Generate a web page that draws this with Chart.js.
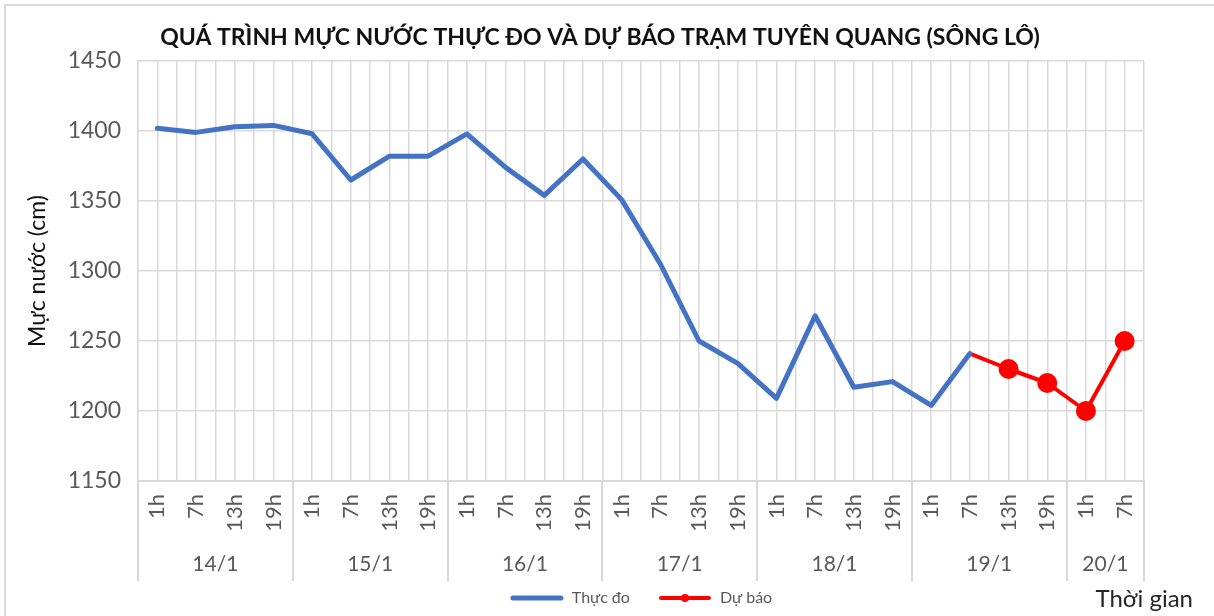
<!DOCTYPE html>
<html>
<head>
<meta charset="utf-8">
<script src="https://cdn.jsdelivr.net/npm/chart.js@4/dist/chart.umd.min.js"></script>
<style>
  html, body { margin: 0; padding: 0; background: #fff; }
  #wrap { position: relative; width: 1214px; height: 616px; overflow: hidden; }
  #frame { position: absolute; left: 4px; top: 4px; width: 1300px; height: 700px;
           border-left: 2px solid #d9d9d9; border-top: 2px solid #d9d9d9; }
  canvas { position: absolute; left: 0; top: 0; }
</style>
</head>
<body>
<div id="wrap">
  <div id="frame"></div>
  <canvas id="chart" width="1214" height="616"></canvas>
</div>
<script>
// số liệu mực nước trạm Tuyên Quang (cm)
const days = ['14/1', '15/1', '16/1', '17/1', '18/1', '19/1', '20/1'];
const hoursPerDay = [4, 4, 4, 4, 4, 4, 2];
const hourLabels = [
  '1h', '7h', '13h', '19h',
  '1h', '7h', '13h', '19h',
  '1h', '7h', '13h', '19h',
  '1h', '7h', '13h', '19h',
  '1h', '7h', '13h', '19h',
  '1h', '7h', '13h', '19h',
  '1h', '7h'
];
const thucDo = [
  1402, 1399, 1403, 1404,
  1398, 1365, 1382, 1382,
  1398, 1374, 1354, 1380,
  1351, 1305, 1250, 1234,
  1209, 1268, 1217, 1221,
  1204, 1241, null, null,
  null, null
];
const duBao = [
  null, null, null, null,
  null, null, null, null,
  null, null, null, null,
  null, null, null, null,
  null, null, null, null,
  null, 1241, 1230, 1220,
  1200, 1250
];
const yTicks = [1150, 1200, 1250, 1300, 1350, 1400, 1450];

// ranh giới ngày và tâm nhãn ngày (theo chỉ số cột)
const dayEdges = [-0.5];
const dayCenters = [];
hoursPerDay.forEach(n => {
  const start = dayEdges[dayEdges.length - 1];
  dayCenters.push(start + n / 2);
  dayEdges.push(start + n);
});
const allEdges = hourLabels.map((_, i) => i - 0.5).concat([hourLabels.length - 0.5]);
const firstForecast = duBao.findIndex(v => v !== null);

const GRID = '#d9d9d9';
const TXT = '#595959';
const FONT = 'Lato';

// mẫu chú giải: đoạn thẳng (có chấm tròn cho dự báo)
function makeSample(color, lw, dot) {
  const c = document.createElement('canvas');
  c.width = 54; c.height = 12;
  const g = c.getContext('2d');
  g.strokeStyle = color;
  g.lineWidth = lw;
  g.lineCap = 'round';
  g.beginPath();
  g.moveTo(3, 6);
  g.lineTo(51, 6);
  g.stroke();
  if (dot) {
    g.fillStyle = color;
    g.beginPath();
    g.arc(27, 6, 4, 0, Math.PI * 2);
    g.fill();
  }
  return c;
}
const samples = [makeSample('#4472c4', 5, false), makeSample('#ff0000', 4, true)];

const extras = {
  id: 'extras',
  beforeDraw(chart) {
    // nhãn ngày cao hơn hộp trục, không cắt
    chart.scales.xd._computeLabelArea = () => undefined;
  },
  afterDraw(chart) {
    const ctx = chart.ctx;
    const xd = chart.scales.xd;
    const area = chart.chartArea;
    ctx.save();
    // vạch phân cách ngày kéo xuống vùng nhãn
    ctx.strokeStyle = GRID;
    ctx.lineWidth = 2;
    dayEdges.forEach(v => {
      const x = Math.round(xd.getPixelForValue(v));
      ctx.beginPath();
      ctx.moveTo(x, area.bottom);
      ctx.lineTo(x, area.bottom + 100);
      ctx.stroke();
    });
    // tiêu đề trục thời gian
    ctx.fillStyle = '#262626';
    ctx.font = '24px ' + FONT;
    ctx.textAlign = 'right';
    ctx.textBaseline = 'middle';
    ctx.fillText('Thời gian', chart.width - 21, 599);
    ctx.restore();
  }
};

new Chart(document.getElementById('chart'), {
  type: 'line',
  data: {
    labels: hourLabels,
    datasets: [
      {
        label: 'Thực đo',
        data: thucDo,
        borderColor: '#4472c4',
        backgroundColor: '#4472c4',
        borderWidth: 5,
        borderCapStyle: 'round',
        borderJoinStyle: 'round',
        pointRadius: 0,
        tension: 0
      },
      {
        label: 'Dự báo',
        data: duBao,
        borderColor: '#ff0000',
        backgroundColor: '#ff0000',
        borderWidth: 4,
        borderCapStyle: 'round',
        borderJoinStyle: 'round',
        pointRadius: c => (c.dataIndex === firstForecast ? 0 : 10),
        pointBorderWidth: 0,
        tension: 0
      }
    ]
  },
  options: {
    responsive: false,
    animation: false,
    layout: { padding: { left: 10, right: 24, top: 0, bottom: 0 } },
    plugins: {
      title: {
        display: true,
        text: 'QUÁ TRÌNH MỰC NƯỚC THỰC ĐO VÀ DỰ BÁO TRẠM TUYÊN QUANG (SÔNG LÔ)',
        color: '#111',
        font: { family: FONT, size: 23, weight: 'bold' },
        padding: { top: 24, bottom: 9.4 }
      },
      legend: {
        position: 'bottom',
        fullSize: false,
        labels: {
          usePointStyle: true,
          pointStyleWidth: 54,
          padding: 28,
          color: TXT,
          font: { family: FONT, size: 16 },
          generateLabels: chart =>
            Chart.defaults.plugins.legend.labels.generateLabels(chart).map((it, i) => ({
              ...it,
              pointStyle: samples[i]
            }))
        }
      },
      tooltip: { enabled: false }
    },
    scales: {
      x: {
        type: 'category',
        position: 'bottom',
        weight: 0,
        offset: true,
        grid: { color: GRID, lineWidth: 1.5, drawTicks: false },
        border: { color: GRID, width: 2 },
        ticks: {
          color: TXT,
          font: { family: FONT, size: 22 },
          minRotation: 90,
          maxRotation: 90,
          autoSkip: false,
          padding: 13
        },
        afterFit: s => { s.height = 62; }
      },
      xd: {
        type: 'linear',
        position: 'bottom',
        weight: 1,
        min: -0.5,
        max: hourLabels.length - 0.5,
        bounds: 'data',
        grid: { display: false, drawTicks: false },
        border: { display: false },
        ticks: {
          color: TXT,
          font: { family: FONT, size: 21 },
          autoSkip: false,
          maxRotation: 0,
          padding: 9,
          callback: v => days[dayCenters.indexOf(v)]
        },
        afterBuildTicks: s => { s.ticks = dayCenters.map(v => ({ value: v })); },
        afterFit: s => { s.height = 19; }
      },
      xb: {
        type: 'linear',
        position: 'top',
        min: -0.5,
        max: hourLabels.length - 0.5,
        bounds: 'data',
        grid: { color: GRID, lineWidth: 1.5, drawTicks: false },
        border: { display: false },
        ticks: { display: false },
        afterBuildTicks: s => { s.ticks = allEdges.map(v => ({ value: v })); },
        afterFit: s => { s.height = 0; }
      },
      y: {
        min: 1150,
        max: 1450,
        grid: { color: GRID, lineWidth: 1.5, drawTicks: false },
        border: { color: GRID, width: 1.5 },
        ticks: {
          color: TXT,
          font: { family: FONT, size: 23 },
          padding: 17,
          callback: v => String(v)
        },
        afterBuildTicks: s => { s.ticks = yTicks.map(v => ({ value: v })); },
        title: {
          display: true,
          text: 'Mực nước (cm)',
          color: '#111',
          font: { family: FONT, size: 23 },
          padding: { top: 14, bottom: 0 }
        },
        afterFit: s => { s.width = 128; }
      },
      yr: {
        type: 'linear',
        position: 'right',
        grid: { display: false, drawTicks: false },
        border: { display: false },
        ticks: { display: false },
        afterFit: s => { s.width = 46; }
      }
    }
  },
  plugins: [extras]
});
</script>
</body>
</html>
